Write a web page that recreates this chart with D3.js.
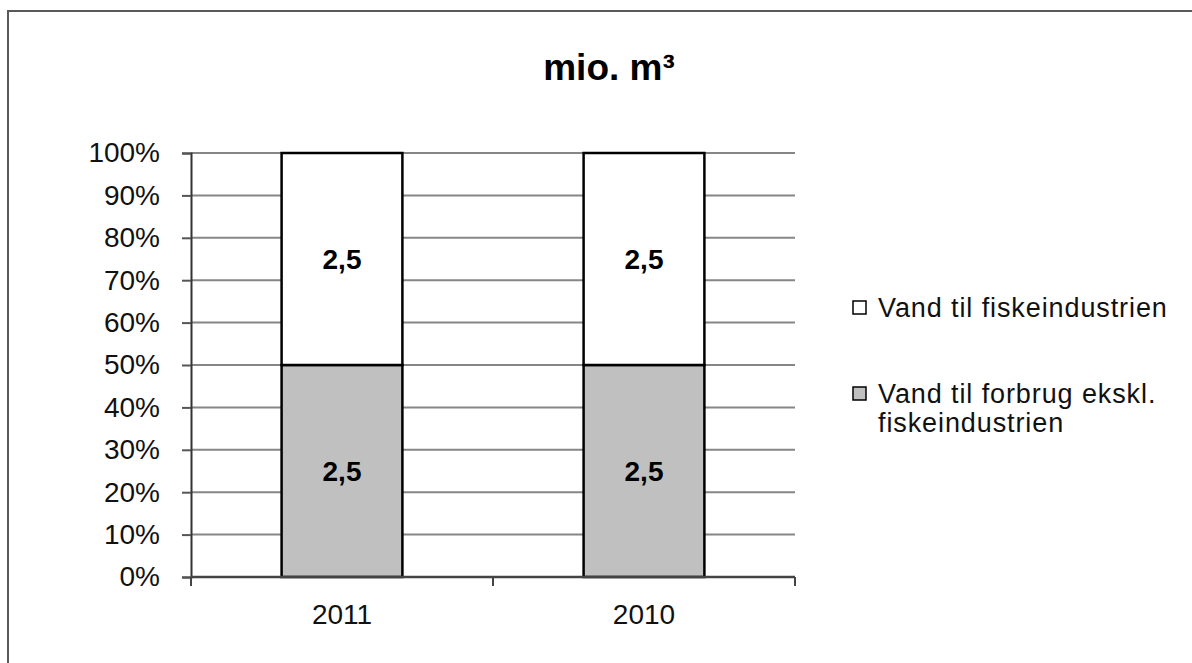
<!DOCTYPE html>
<html>
<head>
<meta charset="utf-8">
<script src="https://cdn.jsdelivr.net/npm/d3@7"></script>
<style>
  body { margin: 0; background: #fff; }
  svg { display: block; font-family: "Liberation Sans", Arial, sans-serif; }
</style>
</head>
<body>
<div id="chart"></div>
<script>
// data
var years = ["2011", "2010"]
var forbrug = [2.5, 2.5]          // Vand til forbrug ekskl. fiskeindustrien
var fiske = [2.5, 2.5]            // Vand til fiskeindustrien
var yTicks = [0, 0.1, 0.2, 0.3, 0.4, 0.5, 0.6, 0.7, 0.8, 0.9, 1]
var seriesNames = ["Vand til fiskeindustrien", "Vand til forbrug ekskl. fiskeindustrien"]
var seriesColors = ["#ffffff", "#c0c0c0"]

var width = 1192, height = 663
var margin = {top: 153, left: 191, right: 397, bottom: 86}

var svg = d3.select("#chart").append("svg")
  .attr("width", width)
  .attr("height", height)

// outer chart border
svg.append("rect")
  .attr("x", 8).attr("y", 11)
  .attr("width", width + 20).attr("height", height + 20)
  .attr("fill", "#fff")
  .attr("stroke", "#595959")
  .attr("stroke-width", 2)

svg.append("text")
  .attr("x", 609).attr("y", 80)
  .attr("text-anchor", "middle")
  .style("font-size", "37px")
  .style("font-weight", "bold")
  .text("mio. m³")

var rows = years.map(function(y, i) { return {year: y, forbrug: forbrug[i], fiske: fiske[i]} })
var stack = d3.stack().keys(["forbrug", "fiske"]).offset(d3.stackOffsetExpand)
var stacked = stack(rows)

var x = d3.scaleBand()
  .domain(years)
  .range([margin.left, width - margin.right])

var y = d3.scaleLinear()
  .domain([0, 1])
  .range([height - margin.bottom, margin.top])

// gridlines
svg.append("g")
  .selectAll("line")
  .data(yTicks.slice(1))
  .enter().append("line")
    .attr("x1", margin.left).attr("x2", width - margin.right)
    .attr("y1", function(d) { return y(d) }).attr("y2", function(d) { return y(d) })
    .attr("stroke", "#868686")
    .attr("stroke-width", 2)

// y axis
var yAxis = svg.append("g")
  .attr("transform", "translate(" + margin.left + ",0)")
  .call(d3.axisLeft(y).tickValues(yTicks).tickFormat(d3.format(".0%")).tickSize(9).tickPadding(22))
yAxis.select(".domain").attr("stroke", "#333").attr("stroke-width", 2)
yAxis.selectAll(".tick line").attr("stroke", "#555").attr("stroke-width", 2)
yAxis.selectAll(".tick text")
  .style("font-size", "28px")
  .attr("fill", "#111")
  .style("font-family", "'Liberation Sans', Arial, sans-serif")

// bars
var barW = x.bandwidth() * 0.4
var keyColor = {forbrug: "#c0c0c0", fiske: "#ffffff"}
var fmt = function(v) { return String(v).replace(".", ",") }

stacked.forEach(function(layer) {
  var g = svg.append("g")
  g.selectAll("rect")
    .data(layer)
    .enter().append("rect")
      .attr("x", function(d) { return x(d.data.year) + (x.bandwidth() - barW) / 2 })
      .attr("y", function(d) { return y(d[1]) })
      .attr("width", barW)
      .attr("height", function(d) { return y(d[0]) - y(d[1]) })
      .attr("fill", keyColor[layer.key])
      .attr("stroke", "#000")
      .attr("stroke-width", 2.5)
  g.selectAll("text")
    .data(layer)
    .enter().append("text")
      .attr("x", function(d) { return x(d.data.year) + x.bandwidth() / 2 })
      .attr("y", function(d) { return (y(d[0]) + y(d[1])) / 2 })
      .attr("dy", "0.35em")
      .attr("text-anchor", "middle")
      .style("font-size", "28px")
      .style("font-weight", "bold")
      .text(function(d) { return fmt(d.data[layer.key]) })
})

// x axis
var xAxis = svg.append("g")
  .attr("transform", "translate(0," + (height - margin.bottom) + ")")
  .call(d3.axisBottom(x).tickSize(0).tickPadding(27))
xAxis.select(".domain").remove()
xAxis.append("line")
  .attr("x1", margin.left).attr("x2", width - margin.right)
  .attr("stroke", "#444").attr("stroke-width", 2.5)
xAxis.selectAll(".cat-tick")
  .data(x.range().concat([x(years[1])]))
  .enter().append("line")
    .attr("class", "cat-tick")
    .attr("x1", function(d) { return d }).attr("x2", function(d) { return d })
    .attr("y1", 0).attr("y2", 9)
    .attr("stroke", "#444").attr("stroke-width", 2)
xAxis.selectAll(".tick text")
  .style("font-size", "28px")
  .attr("fill", "#111")
  .style("font-family", "'Liberation Sans', Arial, sans-serif")

// legend
var legend = svg.append("g")
var legendY = [308, 394]
seriesNames.forEach(function(name, i) {
  legend.append("rect")
    .attr("x", 853).attr("y", legendY[i] - 7)
    .attr("width", 13).attr("height", 13)
    .attr("fill", seriesColors[i])
    .attr("stroke", "#000").attr("stroke-width", 1.5)
  var t = legend.append("text")
    .attr("x", 878).attr("y", legendY[i])
    .attr("dy", "0.35em")
    .style("font-size", "27px")
    .style("letter-spacing", "0.9px")
    .attr("fill", "#111")
  if (i == 1) {
    t.append("tspan").attr("x", 878).text("Vand til forbrug ekskl.")
    t.append("tspan").attr("x", 878).attr("dy", "1.05em").text("fiskeindustrien")
  } else {
    t.text(name)
  }
})
</script>
</body>
</html>
